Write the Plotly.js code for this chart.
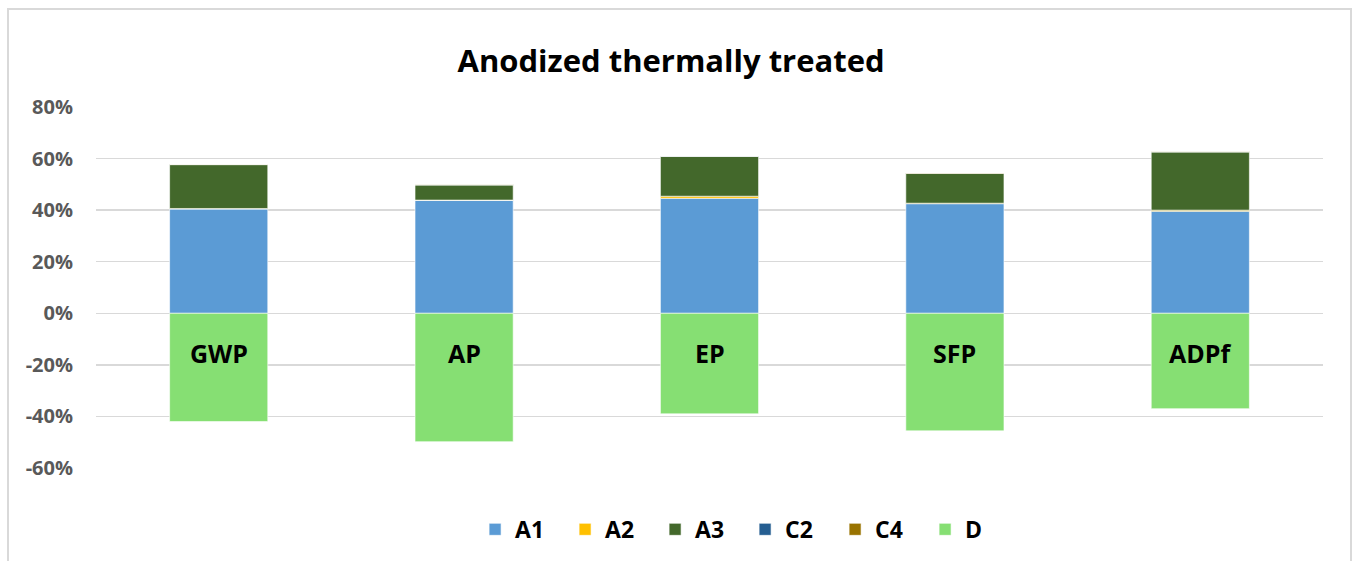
<!DOCTYPE html>
<html>
<head>
<meta charset="utf-8">
<script src="https://cdn.plot.ly/plotly-3.0.1.min.js"></script>
<style>
  html, body { margin: 0; padding: 0; background: #ffffff; }
  #frame { position: absolute; left: 7px; top: 8px; width: 1345px; height: 560px;
           border: 2px solid #d9d9d9; border-bottom: none; box-sizing: border-box; }
  #chart { position: absolute; left: 0; top: 0; width: 1353px; height: 561px; }
</style>
</head>
<body>
<div id="frame"></div>
<div id="chart"></div>
<script>
const categories = ["GWP", "AP", "EP", "SFP", "ADPf"];
const seriesNames = ["A1", "A2", "A3", "C2", "C4", "D"];
const A1 = [40.4, 43.8, 44.6, 42.5, 39.6];
const A2 = [0.25, 0.1, 0.8, 0.2, 0.4];
const A3 = [17.0, 5.9, 15.5, 11.6, 22.6];
const C2 = [0.05, 0.05, 0.05, 0.05, 0.05];
const C4 = [0.05, 0.05, 0.05, 0.05, 0.05];
const D  = [-42.0, -49.8, -39.0, -45.6, -37.0];
const colors = ["#5b9bd5", "#ffc000", "#43682b", "#255e91", "#997300", "#86df73"];
const values = [A1, A2, A3, C2, C4, D];
const yTicks = [-60, -40, -20, 0, 20, 40, 60, 80];

const FONT = "Open Sans, Liberation Sans, sans-serif";

const traces = seriesNames.map((name, i) => ({
  type: "bar",
  name: name,
  x: categories,
  y: values[i],
  marker: { color: colors[i], line: { color: "rgba(255,255,255,0.8)", width: 0.75 } },
  hoverinfo: "name+y"
}));

const annotations = categories.map(c => ({
  x: c, y: 0, xref: "x", yref: "y",
  text: "<b>" + c + "</b>",
  showarrow: false,
  yanchor: "middle",
  yshift: -40,
  font: { family: FONT, size: 25, color: "#000000" }
}));

const layout = {
  width: 1353, height: 561,
  paper_bgcolor: "rgba(0,0,0,0)",
  plot_bgcolor: "rgba(0,0,0,0)",
  margin: { l: 96, r: 30, t: 107, b: 93, autoexpand: false },
  barmode: "relative",
  bargap: 0.6,
  title: {
    text: "<b>Anodized thermally treated</b>",
    x: 0.496, xref: "container", xanchor: "center",
    y: 0.891, yref: "container", yanchor: "middle",
    font: { family: FONT, size: 31, color: "#000000" }
  },
  xaxis: {
    showticklabels: false, showgrid: false, zeroline: false, showline: false,
    fixedrange: true
  },
  yaxis: {
    range: [-60, 80],
    tickvals: yTicks,
    ticktext: yTicks.map(v => "<b>" + v + "%</b>"),
    showgrid: true, gridcolor: "#d9d9d9", gridwidth: 1.5,
    zeroline: false, showline: false,
    ticks: "outside", ticklen: 18, tickcolor: "rgba(0,0,0,0)",
    tickfont: { family: FONT, size: 20, color: "#595959" }
  },
  legend: {
    orientation: "h", x: 0.529, xanchor: "center", y: -0.17, yanchor: "middle",
    xref: "paper", yref: "paper",
    traceorder: "normal",
    entrywidth: 45, entrywidthmode: "pixels",
    itemwidth: 30,
    font: { family: FONT, size: 23, color: "#000000", weight: "bold" },
    itemclick: false
  },
  annotations: annotations
};

Plotly.newPlot("chart", traces, layout, { displayModeBar: false, staticPlot: true });
</script>
</body>
</html>
